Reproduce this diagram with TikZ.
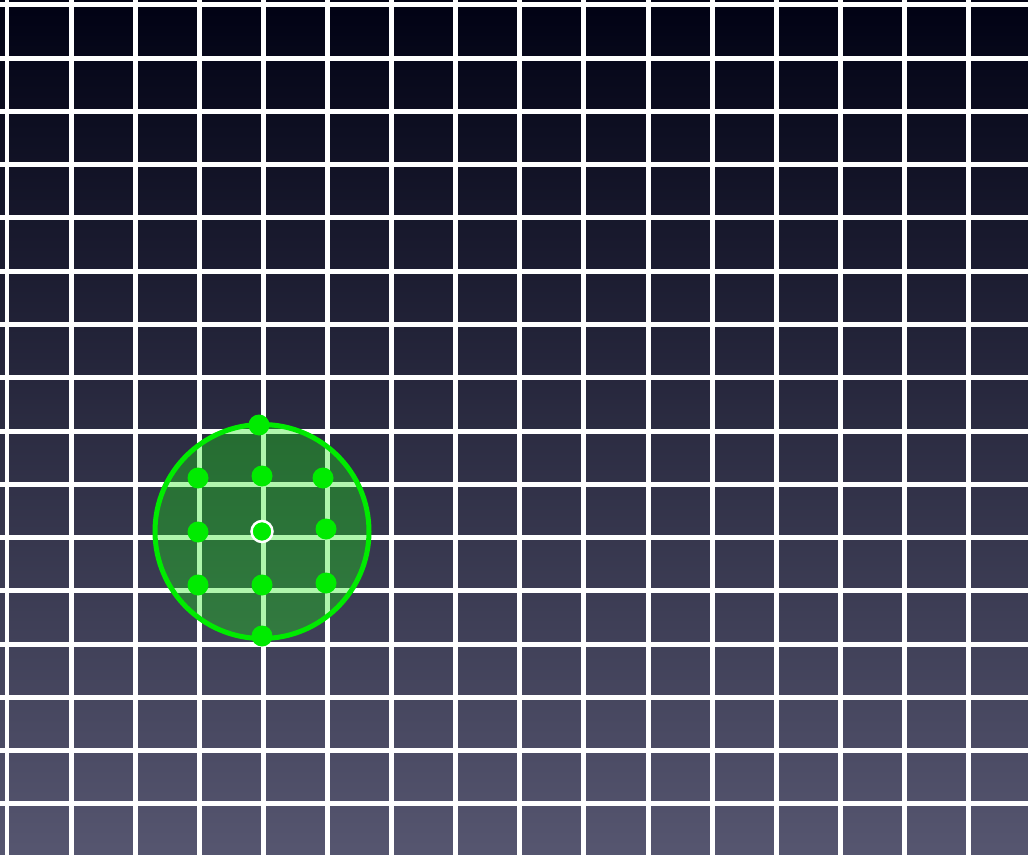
\documentclass[tikz,border=0pt]{standalone}
\usepackage{xcolor}
\usepackage{tikz}
\usetikzlibrary{positioning,calc}

\definecolor{bgtop}{RGB}{1,2,20}
\definecolor{bgbot}{RGB}{86,86,112}
\definecolor{zonegreen}{RGB}{26,231,20}
\definecolor{ringgreen}{RGB}{0,235,0}

\begin{document}
\begin{tikzpicture}[
  x=0.02cm, y=-0.02cm,
  gridline/.style={draw=white, line width=0.1cm},
  zone/.style={fill=zonegreen, fill opacity=0.35, draw=ringgreen, draw opacity=1,
               line width=0.1cm},
  dot/.style={fill=ringgreen},
  hub/.style={dot, draw=white, line width=0.05cm}
]
  \useasboundingbox (0,0) rectangle (1028,858);
  \clip (0,0) rectangle (1028,858);
  \shade[top color=bgtop, bottom color=bgbot] (0,0) rectangle (1028,858);

  % grid
  \foreach \i in {0,...,15}
    \draw[gridline] ({7+64.1*\i},-10) -- ({7+64.1*\i},870);
  \foreach \j in {0,...,16}
    \draw[gridline] (-10,{5+53.25*\j}) -- (1040,{5+53.25*\j});

  % search zone
  \coordinate (centre) at (262,531.5);
  \draw[zone] (centre) circle (107);

  % neighbours
  \foreach \p in {(259,425),(198,478),(262,476),(323,478),(198,532),
                  (326,529),(198,585),(262,585),(326,583),(262,636)}
    \fill[dot] \p circle (10.5);
  \filldraw[hub] (centre) circle (10.5);
\end{tikzpicture}
\end{document}
